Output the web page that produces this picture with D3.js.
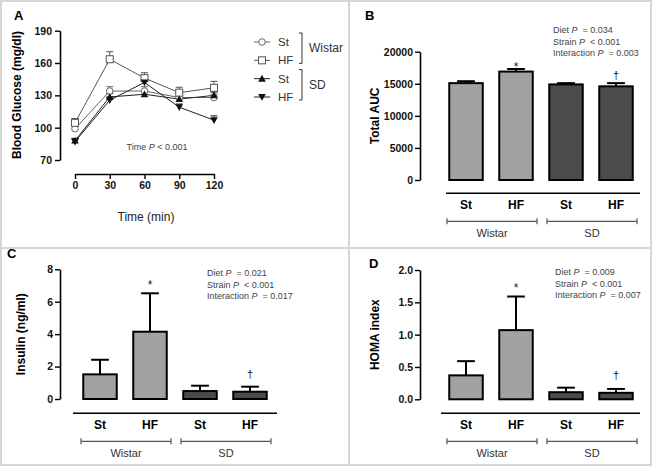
<!DOCTYPE html>
<html><head><meta charset="utf-8">
<script src="https://cdn.jsdelivr.net/npm/d3@7"></script>
<style>body{margin:0;background:#fff} svg{display:block;font-family:"Liberation Sans",Arial,sans-serif}</style>
</head><body><svg id="c" width="653" height="467"></svg>
<script>
// ---------- Data ----------
const times = [0, 30, 60, 90, 120];
const glucoseTicks = [70, 100, 130, 160, 190];
const wistarSt = [99, 134, 134, 128, 128];
const wistarStErr = [3, 4, 4, 4, 3];
const wistarHF = [104.5, 163.5, 146, 132.5, 137];
const wistarHFErr = [4, 7, 5, 5, 6];
const sdSt = [88, 128.5, 131, 126.5, 130];
const sdStErr = [2, 3, 2, 3, 3];
const sdHF = [87, 125.5, 142, 119, 107];
const sdHFErr = [3, 3, 3, 3, 4];
const legendLabels = ["St", "HF", "St", "HF"];
const strains = ["Wistar", "SD"];

const barGroups = ["St", "HF", "St", "HF"];
const aucValues = [15100, 16900, 14900, 14600];
const aucErr = [300, 400, 200, 500];
const aucTicks = [0, 5000, 10000, 15000, 20000];
const insulinValues = [1.52, 4.15, 0.49, 0.45];
const insulinErr = [0.9, 2.37, 0.33, 0.31];
const insulinTicks = [0, 2, 4, 6, 8];
const homaValues = [0.37, 1.07, 0.11, 0.10];
const homaErr = [0.22, 0.52, 0.07, 0.06];
const homaTicks = [0, 0.5, 1.0, 1.5, 2.0];
const aucStats = [["Diet ", "= 0.034"], ["Strain ", "< 0.001"], ["Interaction ", "= 0.003"]];
const insulinStats = [["Diet ", "= 0.021"], ["Strain ", "< 0.001"], ["Interaction ", "= 0.017"]];
const homaStats = [["Diet ", "= 0.009"], ["Strain ", "< 0.001"], ["Interaction ", "= 0.007"]];
const barMarks = ["", "*", "", "\u2020"];

// ---------- Setup ----------
const svg = d3.select("#c");
const LIGHT = "#a2a2a5", DARK = "#4b4b4d";

// frame
const frame = svg.append("g").attr("stroke", "#d6d6d6").attr("stroke-width", 2).attr("fill", "none");
frame.append("rect").attr("x", 1).attr("y", 1).attr("width", 650).attr("height", 464);
frame.append("line").attr("x1", 349).attr("x2", 349).attr("y1", 1).attr("y2", 465);
frame.append("line").attr("x1", 1).attr("x2", 651).attr("y1", 248).attr("y2", 248);

function letter(t, x, y) {
  svg.append("text").attr("x", x).attr("y", y).attr("font-size", 13).attr("font-weight", "bold").text(t);
}
function styleAxis(sel) {
  sel.select(".domain").attr("stroke", "#000").attr("stroke-width", 1.6);
  sel.selectAll(".tick line").attr("stroke", "#000").attr("stroke-width", 1.4);
  sel.selectAll(".tick text").attr("font-size", 10.5).attr("font-weight", "bold").attr("fill", "#111")
    .attr("font-family", "Liberation Sans, Arial, sans-serif");
}
function yTitle(t, x, y) {
  svg.append("text").attr("transform", `translate(${x},${y}) rotate(-90)`).attr("text-anchor", "middle")
    .attr("font-size", 12).attr("font-weight", "bold").text(t);
}
function stats(lines, x, y0) {
  lines.forEach((l, i) => {
    const t = svg.append("text").attr("x", x).attr("y", y0 + i * 11.5).attr("font-size", 9).attr("fill", "#444");
    t.append("tspan").text(l[0]);
    t.append("tspan").attr("font-style", "italic").text("P");
    t.append("tspan").text("\u00a0 " + l[1]);
  });
}

// ---------- Panel A ----------
letter("A", 14, 20);
const xA = d3.scaleLinear().domain([0, 120]).range([75, 214]);
const yA = d3.scaleLinear().domain([70, 190]).range([160, 30.7]);
const ayA = svg.append("g").attr("transform", "translate(60,0)")
  .call(d3.axisLeft(yA).tickValues(glucoseTicks).tickSize(5).tickSizeOuter(0).tickPadding(3));
styleAxis(ayA);
const axA = svg.append("g").attr("transform", "translate(0,174)")
  .call(d3.axisBottom(xA).tickValues(times).tickSize(5).tickSizeOuter(0).tickPadding(3));
styleAxis(axA);
yTitle("Blood Glucose (mg/dl)", 21, 95);
svg.append("text").attr("x", 146).attr("y", 221).attr("text-anchor", "middle").attr("font-size", 12)
  .attr("fill", "#222").text("Time (min)");
{
  const t = svg.append("text").attr("x", 157).attr("y", 150).attr("text-anchor", "middle").attr("font-size", 9).attr("fill", "#444");
  t.append("tspan").text("Time ");
  t.append("tspan").attr("font-style", "italic").text("P");
  t.append("tspan").text(" < 0.001");
}
const series = [
  { v: wistarSt, e: wistarStErr, sym: "circle", fill: "#fff", col: "#666" },
  { v: wistarHF, e: wistarHFErr, sym: "square", fill: "#fff", col: "#555" },
  { v: sdSt, e: sdStErr, sym: "triUp", fill: "#111", col: "#222" },
  { v: sdHF, e: sdHFErr, sym: "triDown", fill: "#111", col: "#222" }
];
function drawSym(g, s, x, y) {
  if (s.sym === "circle") g.append("circle").attr("cx", x).attr("cy", y).attr("r", 3.3).attr("fill", s.fill).attr("stroke", s.col).attr("stroke-width", 1);
  else if (s.sym === "square") g.append("rect").attr("x", x - 3.5).attr("y", y - 3.5).attr("width", 7).attr("height", 7).attr("fill", s.fill).attr("stroke", s.col).attr("stroke-width", 1);
  else if (s.sym === "triUp") g.append("path").attr("d", `M${x},${y - 3.8}L${x + 3.8},${y + 3}L${x - 3.8},${y + 3}Z`).attr("fill", s.fill);
  else g.append("path").attr("d", `M${x},${y + 3.8}L${x + 3.8},${y - 3}L${x - 3.8},${y - 3}Z`).attr("fill", s.fill);
}
const gA = svg.append("g");
const line = d3.line().x((d, i) => xA(times[i])).y(d => yA(d));
series.forEach(s => {
  gA.append("path").attr("d", line(s.v)).attr("fill", "none").attr("stroke", s.col).attr("stroke-width", 1);
});
series.forEach(s => {
  s.v.forEach((v, i) => {
    const x = xA(times[i]);
    gA.append("line").attr("x1", x).attr("x2", x).attr("y1", yA(v)).attr("y2", yA(v + s.e[i])).attr("stroke", s.col).attr("stroke-width", 1);
    gA.append("line").attr("x1", x - 3.5).attr("x2", x + 3.5).attr("y1", yA(v + s.e[i])).attr("y2", yA(v + s.e[i])).attr("stroke", s.col).attr("stroke-width", 1);
  });
});
series.forEach(s => s.v.forEach((v, i) => drawSym(gA, s, xA(times[i]), yA(v))));
// legend
const legY = d3.scalePoint().domain(d3.range(4)).range([42, 97]);
series.forEach((s, i) => {
  const y = legY(i);
  gA.append("line").attr("x1", 254).attr("x2", 270).attr("y1", y).attr("y2", y).attr("stroke", s.col).attr("stroke-width", 1);
  drawSym(gA, s, 262, y);
  gA.append("text").attr("x", 278).attr("y", y + 4).attr("font-size", 11.5).attr("fill", "#333").text(legendLabels[i]);
});
strains.forEach((st, k) => {
  const ya = legY(k * 2) - 9, yb = legY(k * 2 + 1) + 3;
  gA.append("path").attr("d", `M299,${ya}H302V${yb}H299`).attr("fill", "none").attr("stroke", "#333").attr("stroke-width", 1);
  gA.append("text").attr("x", 309).attr("y", (ya + yb) / 2 + 4).attr("font-size", 12).attr("fill", "#333").text(st);
});

// ---------- Bar panels ----------
function barPanel(o) {
  const g = svg.append("g");
  const y = d3.scaleLinear().domain([o.ticks[0], o.ticks[o.ticks.length - 1]]).range([o.yBottom, o.yTop]);
  const x = d3.scalePoint().domain(d3.range(o.values.length)).range(o.xr).padding(0.5);
  const step = x.step(), bw = step * 0.67, cap = bw * 0.53;
  const ay = g.append("g").attr("transform", `translate(${o.ax},0)`)
    .call(d3.axisLeft(y).tickValues(o.ticks).tickFormat(o.fmt).tickSize(5).tickSizeOuter(0).tickPadding(2));
  styleAxis(ay);
  g.append("line").attr("x1", o.xLine[0]).attr("x2", o.xLine[1]).attr("y1", o.axisY).attr("y2", o.axisY)
    .attr("stroke", "#000").attr("stroke-width", 1.6);
  o.values.forEach((v, i) => {
    const cx = x(i), top = y(v), et = y(v + o.errs[i]);
    g.append("line").attr("x1", cx).attr("x2", cx).attr("y1", top).attr("y2", et).attr("stroke", "#000").attr("stroke-width", 2);
    g.append("line").attr("x1", cx - cap / 2).attr("x2", cx + cap / 2).attr("y1", et).attr("y2", et).attr("stroke", "#000").attr("stroke-width", 2);
    g.append("rect").attr("x", cx - bw / 2).attr("y", top).attr("width", bw).attr("height", y(0) - top)
      .attr("fill", i < 2 ? LIGHT : DARK).attr("stroke", "#000").attr("stroke-width", 2);
    g.append("text").attr("x", cx).attr("y", o.axisY + 16).attr("text-anchor", "middle").attr("font-size", 12)
      .attr("font-weight", "bold").text(barGroups[i]);
    if (barMarks[i] === "*") g.append("text").attr("x", cx).attr("y", et - o.starGap + 7).attr("text-anchor", "middle").attr("font-size", 12).attr("fill", "#222").text("*");
    if (barMarks[i] === "\u2020") g.append("text").attr("x", cx).attr("y", et - o.dagGap + 4).attr("text-anchor", "middle").attr("font-size", 11).attr("fill", "#111").text("\u2020");
  });
  strains.forEach((st, k) => {
    const a = x(2 * k) - step * 0.38, b = x(2 * k + 1) + step * 0.42, by = o.axisY + 28;
    g.append("path").attr("d", `M${a},${by - 3}V${by + 3}M${a},${by}H${b}M${b},${by - 3}V${by + 3}`)
      .attr("fill", "none").attr("stroke", "#555").attr("stroke-width", 1.2);
    g.append("text").attr("x", (a + b) / 2).attr("y", o.axisY + 44).attr("text-anchor", "middle").attr("font-size", 11)
      .attr("fill", "#333").text(st);
  });
  yTitle(o.title, o.titleX, (o.yTop + o.yBottom) / 2);
  stats(o.stats, o.statsX, o.statsY);
  letter(o.letter, o.lx, o.ly);
}

barPanel({ letter: "B", lx: 365, ly: 20, values: aucValues, errs: aucErr, ticks: aucTicks, fmt: d3.format("d"),
  yBottom: 180, yTop: 51.7, ax: 420, xr: [441, 641], xLine: [446, 640], axisY: 193.3,
  title: "Total AUC", titleX: 379, stats: aucStats, statsX: 553, statsY: 33, starGap: 5, dagGap: 8 });
barPanel({ letter: "C", lx: 7, ly: 258, values: insulinValues, errs: insulinErr, ticks: insulinTicks, fmt: d3.format("d"),
  yBottom: 399, yTop: 269.3, ax: 60, xr: [75, 275], xLine: [73, 277], axisY: 413.3,
  title: "Insulin (ng/ml)", titleX: 25, stats: insulinStats, statsX: 207, statsY: 276, starGap: 11.5, dagGap: 12.5 });
barPanel({ letter: "D", lx: 369, ly: 268, values: homaValues, errs: homaErr, ticks: homaTicks, fmt: d3.format(".1f"),
  yBottom: 399.3, yTop: 270, ax: 420, xr: [441, 641], xLine: [441, 640], axisY: 413.3,
  title: "HOMA index", titleX: 379, stats: homaStats, statsX: 555, statsY: 275, starGap: 11.5, dagGap: 13.5 });
</script></body></html>
